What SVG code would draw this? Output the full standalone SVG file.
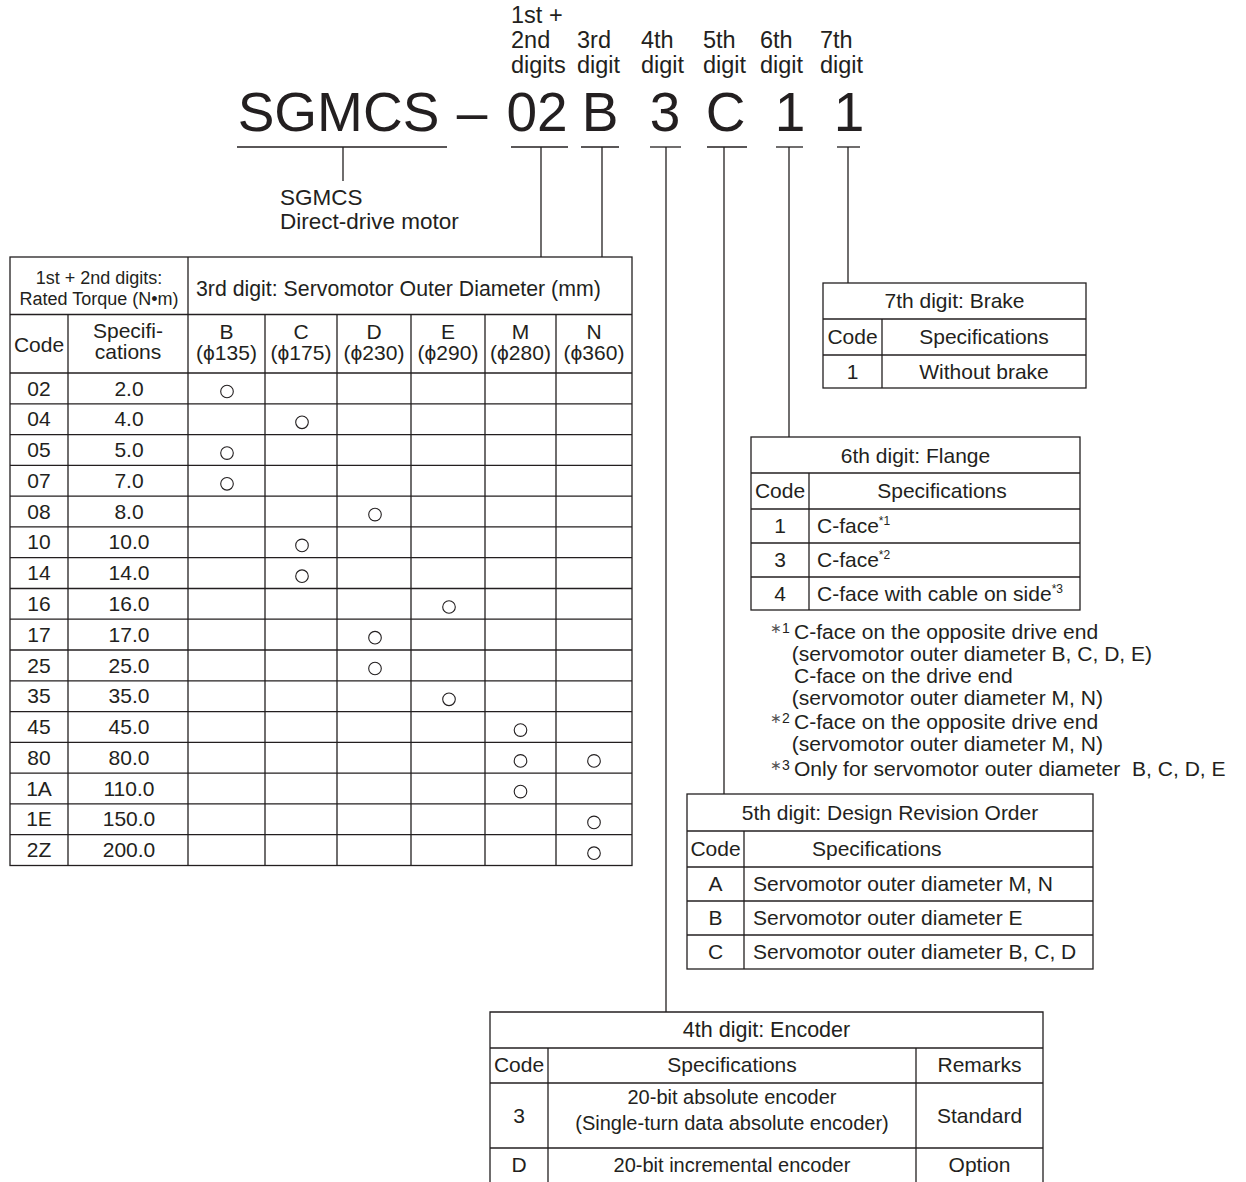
<svg xmlns="http://www.w3.org/2000/svg" width="1246" height="1182" viewBox="0 0 1246 1182">
<style>
text{font-family:"Liberation Sans",Arial,sans-serif;fill:#231f20}
.big{font-size:55px}
.lab{font-size:23.5px}
.t{font-size:21px}
.e{font-size:20px}
.h{font-size:18px}
.n{font-size:19.5px;white-space:pre}
.m{text-anchor:middle}
.sup{font-size:12px}
.ln{stroke:#231f20;stroke-width:1.3;fill:none}
.c{stroke:#231f20;stroke-width:1.1;fill:none}
</style>
<rect width="1246" height="1182" fill="#ffffff"/>

<g id="model-code">
<text class="big m" x="338.5" y="131">SGMCS</text>
<text class="big m" x="472" y="131">–</text>
<text class="big m" x="537" y="131">02</text>
<text class="big m" x="600" y="131">B</text>
<text class="big m" x="665" y="131">3</text>
<text class="big m" x="725.5" y="131">C</text>
<text class="big m" x="790" y="131">1</text>
<text class="big m" x="849" y="131">1</text>
</g>

<g id="digit-labels">
<text class="lab" x="511" y="23">1st +</text>
<text class="lab" x="511" y="48">2nd</text>
<text class="lab" x="511" y="73">digits</text>
<text class="lab" x="577" y="48">3rd</text>
<text class="lab" x="577" y="73">digit</text>
<text class="lab" x="641" y="48">4th</text>
<text class="lab" x="641" y="73">digit</text>
<text class="lab" x="703" y="48">5th</text>
<text class="lab" x="703" y="73">digit</text>
<text class="lab" x="760" y="48">6th</text>
<text class="lab" x="760" y="73">digit</text>
<text class="lab" x="820" y="48">7th</text>
<text class="lab" x="820" y="73">digit</text>
</g>

<g id="connectors" class="ln">
<line x1="237" y1="147" x2="447" y2="147"/>
<line x1="343" y1="147" x2="343" y2="181"/>
<line x1="511" y1="147" x2="568" y2="147"/>
<line x1="541" y1="147" x2="541" y2="257"/>
<line x1="581" y1="147" x2="619" y2="147"/>
<line x1="602" y1="147" x2="602" y2="257"/>
<line x1="650" y1="147" x2="681" y2="147"/>
<line x1="666" y1="147" x2="666" y2="1012"/>
<line x1="707" y1="147" x2="747" y2="147"/>
<line x1="724" y1="147" x2="724" y2="794"/>
<line x1="776" y1="147" x2="803" y2="147"/>
<line x1="789" y1="147" x2="789" y2="437"/>
<line x1="837" y1="147" x2="860" y2="147"/>
<line x1="848" y1="147" x2="848" y2="283"/>
</g>

<g id="motor-label">
<text class="lab" x="280" y="205" style="font-size:22.5px">SGMCS</text>
<text class="lab" x="280" y="229" style="font-size:22.5px">Direct-drive motor</text>
</g>

<g id="table-torque-diameter">
<g class="ln">
<rect x="10" y="257" width="622" height="608.5"/>
<line x1="10" y1="314.5" x2="632" y2="314.5"/>
<line x1="10" y1="373" x2="632" y2="373"/>
<line x1="10" y1="403.8" x2="632" y2="403.8"/>
<line x1="10" y1="434.6" x2="632" y2="434.6"/>
<line x1="10" y1="465.3" x2="632" y2="465.3"/>
<line x1="10" y1="496.1" x2="632" y2="496.1"/>
<line x1="10" y1="526.9" x2="632" y2="526.9"/>
<line x1="10" y1="557.7" x2="632" y2="557.7"/>
<line x1="10" y1="588.5" x2="632" y2="588.5"/>
<line x1="10" y1="619.2" x2="632" y2="619.2"/>
<line x1="10" y1="650" x2="632" y2="650"/>
<line x1="10" y1="680.8" x2="632" y2="680.8"/>
<line x1="10" y1="711.6" x2="632" y2="711.6"/>
<line x1="10" y1="742.4" x2="632" y2="742.4"/>
<line x1="10" y1="773.1" x2="632" y2="773.1"/>
<line x1="10" y1="803.9" x2="632" y2="803.9"/>
<line x1="10" y1="834.7" x2="632" y2="834.7"/>
<line x1="188" y1="257" x2="188" y2="865.5"/>
<line x1="68" y1="314.5" x2="68" y2="865.5"/>
<line x1="265" y1="314.5" x2="265" y2="865.5"/>
<line x1="337" y1="314.5" x2="337" y2="865.5"/>
<line x1="411" y1="314.5" x2="411" y2="865.5"/>
<line x1="485" y1="314.5" x2="485" y2="865.5"/>
<line x1="556" y1="314.5" x2="556" y2="865.5"/>
</g>
<text class="h m" x="99" y="284">1st + 2nd digits:</text>
<text class="h m" x="99" y="305">Rated Torque (N•m)</text>
<text class="t" x="196" y="296" style="font-size:21.3px">3rd digit: Servomotor Outer Diameter (mm)</text>
<text class="t m" x="39" y="352">Code</text>
<text class="t m" x="128" y="338">Specifi-</text>
<text class="t m" x="128" y="359">cations</text>
<text class="t m" x="226.5" y="339">B</text>
<text class="t m" x="226.5" y="360">(ϕ135)</text>
<text class="t m" x="301" y="339">C</text>
<text class="t m" x="301" y="360">(ϕ175)</text>
<text class="t m" x="374" y="339">D</text>
<text class="t m" x="374" y="360">(ϕ230)</text>
<text class="t m" x="448" y="339">E</text>
<text class="t m" x="448" y="360">(ϕ290)</text>
<text class="t m" x="520.5" y="339">M</text>
<text class="t m" x="520.5" y="360">(ϕ280)</text>
<text class="t m" x="594" y="339">N</text>
<text class="t m" x="594" y="360">(ϕ360)</text>

<text class="t m" x="39" y="395.5">02</text><text class="t m" x="129" y="395.5">2.0</text>
<text class="t m" x="39" y="426.3">04</text><text class="t m" x="129" y="426.3">4.0</text>
<text class="t m" x="39" y="457.1">05</text><text class="t m" x="129" y="457.1">5.0</text>
<text class="t m" x="39" y="487.8">07</text><text class="t m" x="129" y="487.8">7.0</text>
<text class="t m" x="39" y="518.6">08</text><text class="t m" x="129" y="518.6">8.0</text>
<text class="t m" x="39" y="549.4">10</text><text class="t m" x="129" y="549.4">10.0</text>
<text class="t m" x="39" y="580.2">14</text><text class="t m" x="129" y="580.2">14.0</text>
<text class="t m" x="39" y="611">16</text><text class="t m" x="129" y="611">16.0</text>
<text class="t m" x="39" y="641.7">17</text><text class="t m" x="129" y="641.7">17.0</text>
<text class="t m" x="39" y="672.5">25</text><text class="t m" x="129" y="672.5">25.0</text>
<text class="t m" x="39" y="703.3">35</text><text class="t m" x="129" y="703.3">35.0</text>
<text class="t m" x="39" y="734.1">45</text><text class="t m" x="129" y="734.1">45.0</text>
<text class="t m" x="39" y="764.9">80</text><text class="t m" x="129" y="764.9">80.0</text>
<text class="t m" x="39" y="795.6">1A</text><text class="t m" x="129" y="795.6">110.0</text>
<text class="t m" x="39" y="826.4">1E</text><text class="t m" x="129" y="826.4">150.0</text>
<text class="t m" x="39" y="857.2">2Z</text><text class="t m" x="129" y="857.2">200.0</text>

<g class="c">
<circle cx="227" cy="391.5" r="6.3"/>
<circle cx="302" cy="422.3" r="6.3"/>
<circle cx="227" cy="453.1" r="6.3"/>
<circle cx="227" cy="483.8" r="6.3"/>
<circle cx="375" cy="514.6" r="6.3"/>
<circle cx="302" cy="545.4" r="6.3"/>
<circle cx="302" cy="576.2" r="6.3"/>
<circle cx="449" cy="607" r="6.3"/>
<circle cx="375" cy="637.7" r="6.3"/>
<circle cx="375" cy="668.5" r="6.3"/>
<circle cx="449" cy="699.3" r="6.3"/>
<circle cx="520.5" cy="730.1" r="6.3"/>
<circle cx="520.5" cy="760.9" r="6.3"/>
<circle cx="594" cy="760.9" r="6.3"/>
<circle cx="520.5" cy="791.6" r="6.3"/>
<circle cx="594" cy="822.4" r="6.3"/>
<circle cx="594" cy="853.2" r="6.3"/>
</g>
</g>

<g id="table-brake">
<g class="ln">
<rect x="823" y="283" width="263" height="105"/>
<line x1="823" y1="319" x2="1086" y2="319"/>
<line x1="823" y1="355" x2="1086" y2="355"/>
<line x1="882" y1="319" x2="882" y2="388"/>
</g>
<text class="t m" x="954.5" y="308">7th digit: Brake</text>
<text class="t m" x="852.5" y="344">Code</text>
<text class="t m" x="984" y="344">Specifications</text>
<text class="t m" x="852.5" y="379">1</text>
<text class="t m" x="984" y="379">Without brake</text>
</g>

<g id="table-flange">
<g class="ln">
<rect x="751" y="437" width="329" height="173"/>
<line x1="751" y1="473" x2="1080" y2="473"/>
<line x1="751" y1="509" x2="1080" y2="509"/>
<line x1="751" y1="543" x2="1080" y2="543"/>
<line x1="751" y1="577" x2="1080" y2="577"/>
<line x1="809" y1="473" x2="809" y2="610"/>
</g>
<text class="t m" x="915.5" y="463">6th digit: Flange</text>
<text class="t m" x="780" y="498">Code</text>
<text class="t m" x="942" y="498">Specifications</text>
<text class="t m" x="780" y="533">1</text>
<text class="t" x="817" y="533">C-face<tspan class="sup" dy="-8">*1</tspan></text>
<text class="t m" x="780" y="567">3</text>
<text class="t" x="817" y="567">C-face<tspan class="sup" dy="-8">*2</tspan></text>
<text class="t m" x="780" y="601">4</text>
<text class="t" x="817" y="601">C-face with cable on side<tspan class="sup" dy="-8">*3</tspan></text>
</g>

<g id="notes">
<text x="770" y="633" style="font-size:14px"><tspan fill="#555">∗</tspan>1</text>
<text x="770" y="723" style="font-size:14px"><tspan fill="#555">∗</tspan>2</text>
<text x="770" y="770" style="font-size:14px"><tspan fill="#555">∗</tspan>3</text>
<g transform="translate(794 0) scale(1.08 1)">
<text class="n" x="0" y="639">C-face on the opposite drive end</text>
<text class="n" x="-2" y="661">(servomotor outer diameter B, C, D, E)</text>
<text class="n" x="0" y="683">C-face on the drive end</text>
<text class="n" x="-2" y="705">(servomotor outer diameter M, N)</text>
<text class="n" x="0" y="729">C-face on the opposite drive end</text>
<text class="n" x="-2" y="751">(servomotor outer diameter M, N)</text>
<text class="n" x="0" y="776" xml:space="preserve">Only for servomotor outer diameter  B, C, D, E</text>
</g>
</g>

<g id="table-revision">
<g class="ln">
<rect x="687" y="794" width="406" height="175"/>
<line x1="687" y1="831" x2="1093" y2="831"/>
<line x1="687" y1="867" x2="1093" y2="867"/>
<line x1="687" y1="901" x2="1093" y2="901"/>
<line x1="687" y1="935" x2="1093" y2="935"/>
<line x1="744" y1="831" x2="744" y2="969"/>
</g>
<text class="t m" x="890" y="820">5th digit: Design Revision Order</text>
<text class="t m" x="715.5" y="856">Code</text>
<text class="t" x="812" y="856">Specifications</text>
<text class="t m" x="715.5" y="891">A</text>
<text class="t" x="753" y="891">Servomotor outer diameter M, N</text>
<text class="t m" x="715.5" y="925">B</text>
<text class="t" x="753" y="925">Servomotor outer diameter E</text>
<text class="t m" x="715.5" y="959">C</text>
<text class="t" x="753" y="959">Servomotor outer diameter B, C, D</text>
</g>

<g id="table-encoder">
<g class="ln">
<path d="M490,1183 V1012 H1043 V1183"/>
<line x1="490" y1="1048" x2="1043" y2="1048"/>
<line x1="490" y1="1083" x2="1043" y2="1083"/>
<line x1="490" y1="1148" x2="1043" y2="1148"/>
<line x1="548" y1="1048" x2="548" y2="1183"/>
<line x1="916" y1="1048" x2="916" y2="1183"/>
</g>
<text class="t m" x="766.5" y="1037" style="font-size:21.5px">4th digit: Encoder</text>
<text class="t m" x="519" y="1072">Code</text>
<text class="t m" x="732" y="1072">Specifications</text>
<text class="t m" x="979.5" y="1072">Remarks</text>
<text class="t m" x="519" y="1123">3</text>
<text class="e m" x="732" y="1104">20-bit absolute encoder</text>
<text class="e m" x="732" y="1130">(Single-turn data absolute encoder)</text>
<text class="t m" x="979.5" y="1123">Standard</text>
<text class="t m" x="519" y="1172">D</text>
<text class="e m" x="732" y="1172">20-bit incremental encoder</text>
<text class="t m" x="979.5" y="1172">Option</text>
</g>
</svg>
